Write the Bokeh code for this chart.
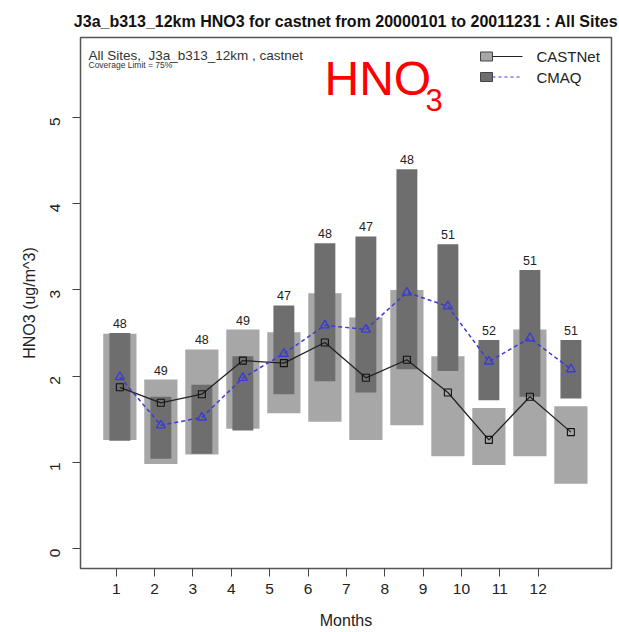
from bokeh.plotting import figure
from bokeh.models import Range1d, FixedTicker, Label, ColumnDataSource
from bokeh.core.properties import value
from bokeh.embed import file_html
from bokeh.resources import INLINE
import math

# ---------------- data ----------------
months = [1, 2, 3, 4, 5, 6, 7, 8, 9, 10, 11, 12]
month_labels = ["1", "2", "3", "4", "5", "6", "7", "8", "9", "10", "11", "12"]
n_sites = [48, 49, 48, 49, 47, 48, 47, 48, 51, 52, 51, 51]
castnet_q25 = [1.26, 0.98, 1.09, 1.39, 1.57, 1.47, 1.26, 1.43, 1.07, 0.97, 1.07, 0.75]
castnet_q75 = [2.49, 1.96, 2.31, 2.54, 2.51, 2.96, 2.68, 3.00, 2.23, 1.63, 2.54, 1.65]
castnet_median = [1.87, 1.69, 1.79, 2.18, 2.15, 2.39, 1.98, 2.19, 1.81, 1.26, 1.76, 1.35]
cmaq_q25 = [1.25, 1.04, 1.10, 1.37, 1.79, 1.94, 1.81, 2.08, 2.06, 1.72, 1.76, 1.74]
cmaq_q75 = [2.50, 1.76, 1.90, 2.23, 2.82, 3.54, 3.62, 4.40, 3.53, 2.42, 3.23, 2.42]
cmaq_median = [1.99, 1.43, 1.52, 1.98, 2.26, 2.59, 2.54, 2.97, 2.81, 2.17, 2.44, 2.08]
y_ticks = [0, 1, 2, 3, 4, 5]
series_names = ["CASTNet", "CMAQ"]

# ---------------- layout ----------------
W, H = 619, 632
FL, FT, FW, FH = 80, 37, 531, 531
X0, X1 = 0.04, 12.99
Y0, Y1 = -0.232, 5.928
FONT = "Liberation Sans"
LIGHT = "#a7a7a7"
DARK = "#6e6e6e"
BLUE = "#3b3bd6"


def px_x(px):
    return X0 + (px - FL) / FW * (X1 - X0)


def px_y(py):
    return Y1 - (py - FT) / FH * (Y1 - Y0)


p = figure(width=W, height=H, output_backend="svg", toolbar_location=None,
           x_range=Range1d(X0, X1), y_range=Range1d(Y0, Y1),
           min_border_left=FL, min_border_right=W - FL - FW,
           min_border_top=FT, min_border_bottom=H - FT - FH,
           background_fill_color="white", border_fill_color="white")
p.grid.visible = False
p.outline_line_color = "#555555"
p.outline_line_width = 1.5

p.title.text = "J3a_b313_12km HNO3 for castnet from 20000101 to 20011231 : All Sites"
p.title.align = "center"
p.title.text_font = FONT
p.title.text_font_size = "16px"
p.title.text_font_style = "bold"
p.title.text_color = "#111111"
p.title.standoff = 15

src = ColumnDataSource(dict(
    x=months, c25=castnet_q25, c75=castnet_q75, cm=castnet_median,
    m25=cmaq_q25, m75=cmaq_q75, mm=cmaq_median,
    top=[max(a, b) for a, b in zip(castnet_q75, cmaq_q75)],
    n=[str(v) for v in n_sites]))

p.vbar(x="x", bottom="c25", top="c75", width=0.81, source=src,
       fill_color=LIGHT, line_color=None)
p.vbar(x="x", bottom="m25", top="m75", width=0.51, source=src,
       fill_color=DARK, line_color=None)

p.line(x="x", y="cm", source=src, line_color="#222222", line_width=1.3)
p.line(x="x", y="mm", source=src, line_color=BLUE, line_width=1.5, line_dash="4 3")
p.scatter(x="x", y="cm", source=src, marker="square", size=7,
          fill_color=None, line_color="#111111", line_width=1.1)
p.scatter(x="x", y="mm", source=src, marker="triangle", size=9,
          fill_color=None, line_color=BLUE, line_width=1.4)

p.text(x="x", y="top", text="n", source=src, text_align="center",
       text_baseline="bottom", y_offset=-5, text_font=value(FONT),
       text_font_size="12.5px", text_color="#222222")

# axes
xa = p.xaxis[0]
xa.ticker = FixedTicker(ticks=[px_x(115.7 + 38.36 * i) for i in range(len(months))])
xa.major_label_overrides = {px_x(115.7 + 38.36 * i): month_labels[i] for i in range(len(months))}
xa.axis_label = "Months"
ya = p.yaxis[0]
ya.ticker = FixedTicker(ticks=y_ticks)
ya.axis_label = "HNO3 (ug/m^3)"
ya.major_label_orientation = math.pi / 2
for ax in (xa, ya):
    ax.axis_line_color = None
    ax.major_tick_out = 8
    ax.major_tick_in = 0
    ax.minor_tick_line_color = None
    ax.major_tick_line_color = "#444444"
    ax.major_label_text_font = FONT
    ax.major_label_text_font_size = "15.5px"
    ax.major_label_text_color = "#222222"
    ax.axis_label_text_font = FONT
    ax.axis_label_text_font_size = "16px"
    ax.axis_label_text_font_style = "normal"
    ax.axis_label_text_color = "#222222"
xa.major_label_standoff = 7
xa.axis_label_standoff = 15
ya.major_label_standoff = 17
ya.axis_label_standoff = 5

# in-plot annotations
p.add_layout(Label(x=px_x(88), y=px_y(55), text="All Sites,\u00a0 J3a_b313_12km , castnet",
                   text_font=FONT, text_font_size="13.5px", text_color="#333333",
                   text_baseline="alphabetic"))
p.add_layout(Label(x=px_x(88), y=px_y(64.5), text="Coverage Limit = 75%",
                   text_font=FONT, text_font_size="8.5px", text_color="#333333",
                   text_baseline="alphabetic"))
p.add_layout(Label(x=px_x(324), y=px_y(78), text="HNO",
                   text_font=FONT, text_font_size="48px", text_color="#ff0000",
                   text_baseline="alphabetic"))
p.add_layout(Label(x=px_x(425), y=px_y(99), text="3",
                   text_font=FONT, text_font_size="31px", text_color="#ff0000",
                   text_baseline="alphabetic"))

# legend (drawn by hand, R style: box then line)
leg_rows = [56, 76.5]
leg_fill = [LIGHT, DARK]
leg_line = [("#222222", "solid"), (BLUE, "3 3")]
for row, name, fc, (lc, dash) in zip(leg_rows, series_names, leg_fill, leg_line):
    p.quad(left=px_x(480), right=px_x(492), bottom=px_y(row + 4.5), top=px_y(row - 4.5),
           fill_color=fc, line_color="#444444", line_width=1)
    p.segment(x0=px_x(492), y0=px_y(row), x1=px_x(522), y1=px_y(row),
              line_color=lc, line_width=1.2, line_dash=dash)
    p.add_layout(Label(x=px_x(536), y=px_y(row), text=name, text_font=FONT,
                       text_font_size="15px", text_color="#222222",
                       text_baseline="middle"))

open("out.html", "w").write(file_html(p, INLINE))
